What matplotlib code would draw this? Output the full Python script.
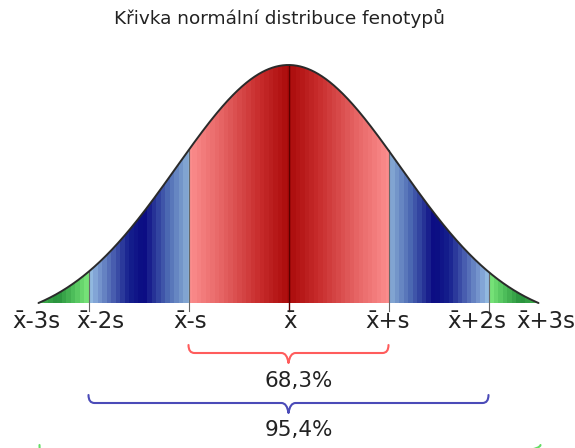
import numpy as np
import matplotlib
matplotlib.use("Agg")
import matplotlib.pyplot as plt
from matplotlib.patches import Polygon, PathPatch
from matplotlib.path import Path

TITLE = "Křivka normální distribuce fenotypů"

# popisky osy (v jednotkách s od průměru)
TICK_POS    = [-2, -1, 0, 1, 2]
LABELS      = ["x\u0304-3s", "x\u0304-2s", "x\u0304-s", "x\u0304", "x\u0304+s", "x\u0304+2s", "x\u0304+3s"]
LABEL_X     = [-2.525, -1.885, -0.985, 0.015, 0.995, 1.885, 2.575]

# intervaly a podíly (třetí popisek je mimo obrázek)
INTERVALS   = [1, 2, 3]
PERCENTS    = ["68,3%", "95,4%", None]
BRACE_COLS  = ["#ff5c5c", "#4b4bb8", "#66dd66"]

# tvar křivky (useknutá normála)
Z_END   = 2.5
SHAPE_K = 1.12

# barevné přechody podle |z|
RED_STOPS   = ([0.0, 0.3, 0.7, 1.0],
               [(170, 10, 10), (200, 45, 45), (232, 104, 104), (252, 142, 142)])
BLUE_STOPS  = ([1.0, 1.2, 1.45, 1.6, 2.0],
               [(140, 176, 215), (80, 110, 182), (10, 10, 130), (22, 32, 142), (152, 192, 228)])
GREEN_STOPS = ([2.0, 2.15, 2.32, 2.5],
               [(125, 232, 125), (80, 192, 92), (40, 145, 60), (72, 182, 84)])

PX_X0, PX_S = 288.5, 100.0      # poloha průměru a šířka s v pixelech
PX_BASE, PX_PEAK = 303.0, 238.0  # základna a výška vrcholu


def py(px):
    return (PX_BASE - px) / PX_PEAK


def curve(z):
    c = np.exp(-Z_END**2 / (2 * SHAPE_K**2))
    return (np.exp(-z**2 / (2 * SHAPE_K**2)) - c) / (1 - c)


def grad(stops, a):
    pos, cols = stops
    cols = np.array(cols, float) / 255
    return np.column_stack([np.interp(a, pos, cols[:, i]) for i in range(3)])


def brace(ax, x0, x1, y_top, y_mid, y_tip, color):
    xc = (x0 + x1) / 2
    r, d = 0.06, 0.07
    verts = [(x0, y_top), (x0, y_mid), (x0 + r, y_mid),
             (xc - d, y_mid), (xc - 0.015, y_mid), (xc, y_tip),
             (xc + 0.015, y_mid), (xc + d, y_mid),
             (x1 - r, y_mid), (x1, y_mid), (x1, y_top)]
    codes = [Path.MOVETO, Path.CURVE3, Path.CURVE3,
             Path.LINETO, Path.CURVE3, Path.CURVE3,
             Path.CURVE3, Path.CURVE3,
             Path.LINETO, Path.CURVE3, Path.CURVE3]
    ax.add_patch(PathPatch(Path(verts, codes), fill=False, edgecolor=color,
                           lw=1.5, capstyle="round", joinstyle="round"))


fig = plt.figure(figsize=(5.75, 4.48), dpi=100)
ax = fig.add_axes([0, 0, 1, 1])
ax.axis("off")

z = np.linspace(-Z_END, Z_END, 1001)
fz = curve(z)

# barevná výplň pod křivkou
a = np.round(np.abs(z) / 0.045) * 0.045
rgb = np.where((np.abs(z) <= 1)[:, None], grad(RED_STOPS, a),
               np.where((np.abs(z) <= 2)[:, None], grad(BLUE_STOPS, a), grad(GREEN_STOPS, a)))
poly = Polygon(np.column_stack([z, fz]), closed=True, facecolor="none", edgecolor="none")
ax.add_patch(poly)
im = ax.imshow(rgb[None, :, :], extent=(-Z_END, Z_END, 0, 1), aspect="auto",
               interpolation="nearest", origin="lower")
im.set_clip_path(poly)

# svislé čáry
for t in TICK_POS:
    if t == 0:
        ax.plot([0, 0], [1, py(311)], color="#5a0000", lw=1.0)
    else:
        ax.plot([t, t], [curve(t), py(311)], color="#666666", lw=0.8)

ax.plot(z, fz, color="#2a2a2a", lw=1.4, solid_capstyle="round")

for x, lab in zip(LABEL_X, LABELS):
    ax.text(x, py(321), lab, ha="center", va="center", fontsize=16.5,
            color="#222222", family="DejaVu Sans")

# závorky s procenty
brace_px = [(345, 353, 363, 381), (395, 403, 413, 430), (445, 458, 468, 486)]
for w, pct, col, (yt, ym, ytip, ytxt) in zip(INTERVALS, PERCENTS, BRACE_COLS, brace_px):
    x0, x1 = -w, w
    if w == 3:
        x0, x1 = -2.49, 2.52
    brace(ax, x0, x1, py(yt), py(ym), py(ytip), col)
    if pct:
        ax.text(0.105, py(ytxt), pct, ha="center", va="center", fontsize=15.5, color="#222222")

ax.text(-0.095, py(18), TITLE, ha="center", va="center", fontsize=13.3, color="#222222")

ax.set_xlim(-PX_X0 / PX_S, (575 - PX_X0) / PX_S)
ax.set_ylim(py(448), py(0))

fig.savefig("out.png", dpi=100)
plt.close()
